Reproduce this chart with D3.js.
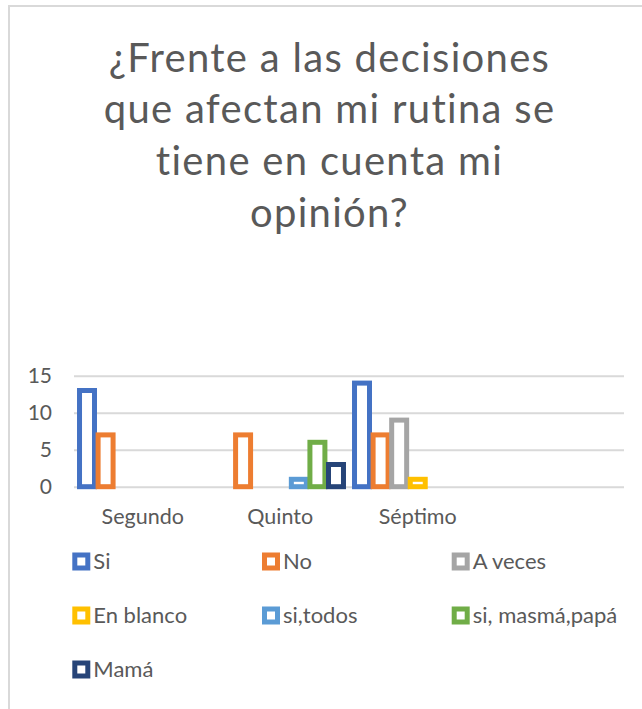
<!DOCTYPE html>
<html lang="es">
<head>
<meta charset="utf-8">
<title>¿Frente a las decisiones que afectan mi rutina se tiene en cuenta mi opinión?</title>
<script src="https://d3js.org/d3.v7.min.js"></script>
<style>
  html, body { margin: 0; padding: 0; background: #fff; }
  svg { display: block; font-family: Lato, "Open Sans", sans-serif; }
</style>
</head>
<body>
<script>
// categorias (la cuarta viene vacia en el grafico original)
var categories = ["Segundo", "Quinto", "Séptimo", ""];
var seriesNames = ["Si", "No", "A veces", "En blanco", "si,todos", "si, masmá,papá", "Mamá"];
var seriesColors = ["#4472C4", "#ED7D31", "#A5A5A5", "#FFC000", "#5B9BD5", "#70AD47", "#264478"];

// valores por serie, en el orden de categories (null = sin barra)
var si          = [13, null, 14, null];
var no          = [7, 7, 7, null];
var aVeces      = [null, null, 9, null];
var enBlanco    = [null, null, 1, null];
var siTodos     = [null, 1, null, null];
var siMasmaPapa = [null, 6, null, null];
var mama        = [null, 3, null, null];
var seriesValues = [si, no, aVeces, enBlanco, siTodos, siMasmaPapa, mama];

var yTicks = [0, 5, 10, 15];
var titleLines = ["¿Frente a las decisiones", "que afectan mi rutina se", "tiene en cuenta mi", "opinión?"];

var w = 642, h = 709;
var textColor = "#595959";
var gridColor = "#D9D9D9";

var svg = d3.select("body").append("svg")
  .attr("width", w)
  .attr("height", h);

// marco del grafico (se corta por la derecha y abajo)
svg.append("rect")
  .attr("x", 9).attr("y", 6)
  .attr("width", 800).attr("height", 900)
  .attr("fill", "#fff")
  .attr("stroke", gridColor)
  .attr("stroke-width", 2);

// titulo
svg.append("g").selectAll("text")
  .data(titleLines)
  .enter().append("text")
  .attr("x", 329.5)
  .attr("y", function(d, i) { return 71.5 + i * 51.7; })
  .attr("text-anchor", "middle")
  .attr("fill", textColor)
  .style("font-size", "40px")
  .style("letter-spacing", "1.3px")
  .text(function(d) { return d; });

// escalas
var x0 = d3.scaleBand()
  .domain(categories)
  .range([74, 624]);

var x1 = d3.scaleBand()
  .domain(seriesNames)
  .range([0, x0.bandwidth()])
  .paddingOuter(0.2);

var y = d3.scaleLinear()
  .domain([0, 15])
  .range([486.7, 375.7]);

// eje y con lineas de cuadricula
var yAxis = svg.append("g")
  .attr("transform", "translate(74,0)")
  .call(d3.axisLeft(y).tickValues(yTicks).tickSize(-550).tickPadding(22));
yAxis.select(".domain").remove();
yAxis.selectAll(".tick line").attr("stroke", gridColor).attr("stroke-width", 2);
yAxis.selectAll(".tick text")
  .attr("fill", textColor)
  .style("font-size", "21px")
  .style("font-family", "Lato, sans-serif");

// eje x (solo etiquetas)
var xAxis = svg.append("g")
  .attr("transform", "translate(0," + y(0) + ")")
  .call(d3.axisBottom(x0).tickSize(0).tickPadding(22));
xAxis.select(".domain").remove();
xAxis.selectAll(".tick text")
  .attr("fill", textColor)
  .style("font-size", "21.5px")
  .style("font-family", "Lato, sans-serif");

// barras huecas
var barStroke = 5;
var bars = [];
seriesNames.forEach(function(s, si_) {
  categories.forEach(function(c, ci) {
    var v = seriesValues[si_][ci];
    if (v != null) bars.push({ series: s, color: seriesColors[si_], cat: c, value: v });
  });
});

svg.append("g").selectAll("rect")
  .data(bars)
  .enter().append("rect")
  .attr("x", function(d) { return x0(d.cat) + x1(d.series) + 1.8; })
  .attr("width", x1.bandwidth() - 3.6)
  .attr("y", function(d) { return y(d.value); })
  .attr("height", function(d) { return y(0) - y(d.value); })
  .attr("fill", "#fff")
  .attr("stroke", function(d) { return d.color; })
  .attr("stroke-width", barStroke);

// leyenda, 3 columnas
var legend = svg.append("g").selectAll("g")
  .data(seriesNames)
  .enter().append("g")
  .attr("transform", function(d, i) {
    return "translate(" + (72.3 + (i % 3) * 189.7) + "," + (561.5 + Math.floor(i / 3) * 54) + ")";
  });

legend.append("rect")
  .attr("x", 2.5).attr("y", -6.5)
  .attr("width", 13).attr("height", 13)
  .attr("fill", "#fff")
  .attr("stroke", function(d, i) { return seriesColors[i]; })
  .attr("stroke-width", barStroke);

legend.append("text")
  .attr("x", 21)
  .attr("dy", "0.35em")
  .attr("fill", textColor)
  .style("font-size", "22px")
  .text(function(d) { return d; });
</script>
</body>
</html>
